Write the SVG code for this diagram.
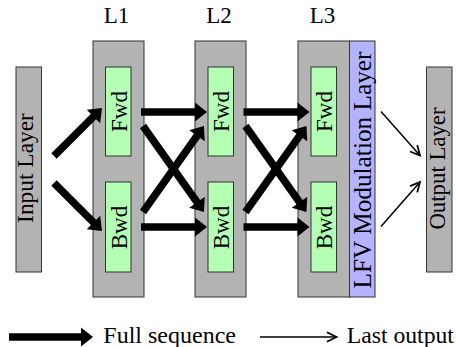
<svg xmlns="http://www.w3.org/2000/svg" width="456" height="347" viewBox="0 0 456 347">
<defs>
<style>
text{font-family:'Liberation Serif','Times New Roman',Times,serif;fill:#000}
.gray{fill:#b3b3b3;stroke:#333;stroke-width:1}
.green{fill:#b3ffb3;stroke:#333;stroke-width:1}
.blue{fill:#b3b3ff;stroke:#333;stroke-width:1}
.thick{stroke:#000;stroke-width:7.5;fill:none;marker-end:url(#bigHead)}
.thin{stroke:#000;stroke-width:1.5;fill:none;marker-end:url(#smallHead)}
</style>
<marker id="bigHead" markerUnits="userSpaceOnUse" markerWidth="14" markerHeight="22" refX="1" refY="10" orient="auto" viewBox="0 0 14 20" overflow="visible">
<path d="M0,0.5 L12,10 L0,19.5 Z" fill="#000"/>
</marker>
<marker id="smallHead" markerUnits="userSpaceOnUse" markerWidth="12" markerHeight="12" refX="9" refY="5" orient="auto" viewBox="0 0 10 10" overflow="visible">
<path d="M1,1 L9,5 L1,9" fill="none" stroke="#000" stroke-width="1.5"/>
</marker>
</defs>
<rect width="456" height="347" fill="#fff"/>
<g font-family="Liberation Serif, serif">
<g id="input-layer">
<rect class="gray" x="16" y="67" width="25.5" height="205"/>
<text transform="translate(33,168) rotate(-90)" text-anchor="middle" font-size="23.4">Input Layer</text>
</g>

<g id="L1">
<rect class="gray" x="93" y="41" width="51" height="256"/>
<text x="116.5" y="22.5" text-anchor="middle" font-size="23">L1</text>
</g>
<g id="L1-fwd">
<rect class="green" x="105.5" y="67" width="25.5" height="89"/>
<text transform="translate(126.5,111.5) rotate(-90)" text-anchor="middle" font-size="23">Fwd</text>
</g>
<g id="L1-bwd">
<rect class="green" x="105.5" y="182" width="25.5" height="90"/>
<text transform="translate(126.5,227.5) rotate(-90)" text-anchor="middle" font-size="23">Bwd</text>
</g>

<g id="L2">
<rect class="gray" x="195" y="41" width="51" height="256"/>
<text x="219" y="22.5" text-anchor="middle" font-size="23">L2</text>
</g>
<g id="L2-fwd">
<rect class="green" x="208" y="67" width="25.5" height="89"/>
<text transform="translate(229,111.5) rotate(-90)" text-anchor="middle" font-size="23">Fwd</text>
</g>
<g id="L2-bwd">
<rect class="green" x="208" y="182" width="25.5" height="90"/>
<text transform="translate(229,227.5) rotate(-90)" text-anchor="middle" font-size="23">Bwd</text>
</g>

<g id="L3">
<rect class="gray" x="298" y="41" width="51.5" height="256"/>
<text x="322.5" y="22.5" text-anchor="middle" font-size="23">L3</text>
</g>
<g id="L3-fwd">
<rect class="green" x="311" y="67" width="25.5" height="89"/>
<text transform="translate(332,111.5) rotate(-90)" text-anchor="middle" font-size="23">Fwd</text>
</g>
<g id="L3-bwd">
<rect class="green" x="311" y="182" width="25.5" height="90"/>
<text transform="translate(332,227.5) rotate(-90)" text-anchor="middle" font-size="23">Bwd</text>
</g>

<g id="lfv-modulation">
<rect class="blue" x="349.5" y="41" width="25.5" height="256"/>
<text transform="translate(370.5,170) rotate(-90)" text-anchor="middle" font-size="25.3">LFV Modulation Layer</text>
</g>

<g id="output-layer">
<rect class="gray" x="426.5" y="67" width="25.5" height="205"/>
<text transform="translate(444.5,168.5) rotate(-90)" text-anchor="middle" font-size="22.8">Output Layer</text>
</g>

<g id="connectors">
<line class="thick" x1="54" y1="156" x2="94.2" y2="115.8"/>
<line class="thick" x1="54" y1="183" x2="94.2" y2="223.2"/>
<line class="thick" x1="141" y1="112" x2="196" y2="112"/>
<line class="thick" x1="141" y1="227" x2="196" y2="227"/>
<line class="thick" x1="143" y1="126" x2="197.6" y2="203"/>
<line class="thick" x1="143" y1="212" x2="197.6" y2="135"/>
<line class="thick" x1="243.5" y1="112" x2="298.5" y2="112"/>
<line class="thick" x1="243.5" y1="227" x2="298.5" y2="227"/>
<line class="thick" x1="245.5" y1="126" x2="300.1" y2="203"/>
<line class="thick" x1="245.5" y1="212" x2="300.1" y2="135"/>
<line class="thin" x1="381" y1="111.5" x2="420" y2="155.5"/>
<line class="thin" x1="381" y1="226.5" x2="420" y2="182"/>
</g>

<g id="legend">
<line class="thick" x1="9" y1="337" x2="82" y2="337"/>
<text x="103.3" y="342.7" font-size="24">Full sequence</text>
<line class="thin" x1="260" y1="337" x2="336.5" y2="337"/>
<text x="346.7" y="342.7" font-size="23.7">Last output</text>
</g>
</g>
</svg>
